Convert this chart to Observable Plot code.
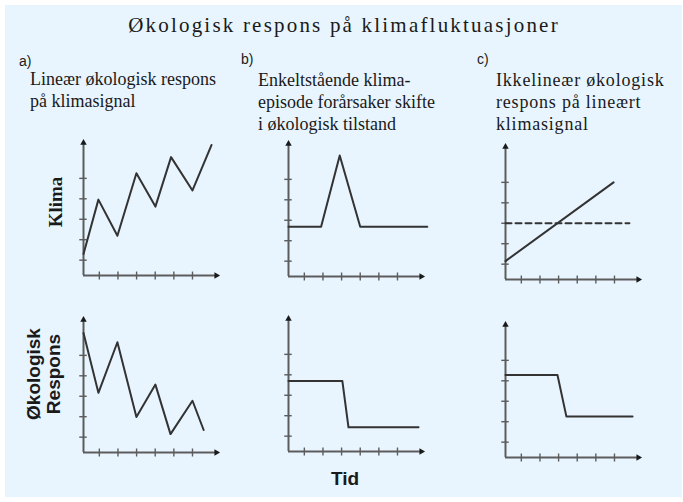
<!DOCTYPE html>
<html><head><meta charset="utf-8">
<script src="https://cdn.jsdelivr.net/npm/d3@7"></script>
<script src="https://cdn.jsdelivr.net/npm/@observablehq/plot@0.6"></script>
<style>
body{margin:0;background:#fff;}
#fig{position:relative;width:683px;height:502px;overflow:hidden;}
#bg{position:absolute;left:5px;top:5px;width:677px;height:492px;background:#e8f5fe;}
.t{position:absolute;white-space:nowrap;color:#1a1a1a;}
.serif{font-family:"Liberation Serif","Tinos","Times New Roman","DejaVu Serif","Noto Serif",serif;}
.sans{font-family:"Liberation Sans",Arial,sans-serif;}
.narrow{font-family:"Liberation Sans Narrow","Liberation Sans",Arial,sans-serif;}
.sub{font-size:18px;line-height:22px;}
.lab{font-size:14px;line-height:14px;}
.p{position:absolute;}
</style></head>
<body>
<div id="fig">
<div id="bg"></div>
<div class="t serif" style="left:2px;width:684px;text-align:center;top:15px;font-size:21px;line-height:21px;letter-spacing:2.2px;">Økologisk respons på klimafluktuasjoner</div>
<div class="t narrow lab" style="left:19px;top:54px;">a)</div>
<div class="t narrow lab" style="left:241px;top:52px;">b)</div>
<div class="t narrow lab" style="left:477px;top:52px;">c)</div>
<div class="t serif sub" style="left:30px;top:68px;">Lineær økologisk respons<br>på klimasignal</div>
<div class="t serif sub" style="left:258px;top:69px;">Enkeltstående klima-<br>episode forårsaker skifte<br>i økologisk tilstand</div>
<div class="t serif sub" style="left:496px;top:69px;letter-spacing:0.8px;">Ikkelineær økologisk<br>respons på lineært<br>klimasignal</div>
<div class="t serif" style="left:55px;top:202px;transform:translate(-50%,-50%) rotate(-90deg);font-size:19px;line-height:19px;font-weight:bold;">Klima</div>
<div class="t sans" style="left:43.5px;top:374px;transform:translate(-50%,-50%) rotate(-90deg);font-size:19px;line-height:20px;font-weight:bold;text-align:center;">Økologisk<br>Respons</div>
<div class="t sans" style="left:345px;top:469px;transform:translateX(-50%);font-size:19px;line-height:19px;font-weight:bold;">Tid</div>
</div>
<script>
// axis tick positions (time units / value units)
const xTicks = [1, 2, 3, 4, 5, 6];
const yTicks = [1, 2, 3, 4, 5];
const xDomain = [0.15, 7.45];
const yDomain = [0.25, 6.9];

// a) linear response
const aClimaTime = [0.15, 0.95, 1.97, 2.99, 4.01, 4.85, 6.0, 7.02];
const aClimaValue = [1.3, 3.96, 2.19, 5.25, 3.62, 6.04, 4.41, 6.63];
const aRespTime = [0.15, 0.95, 1.97, 2.99, 4.01, 4.82, 6.0, 6.6];
const aRespValue = [6.09, 3.17, 5.64, 1.99, 3.57, 1.15, 2.78, 1.35];

// b) single climate episode
const bClimaTime = [0.15, 1.9, 2.9, 4.0, 7.6];
const bClimaValue = [2.68, 2.68, 6.17, 2.68, 2.68];
const bRespTime = [0.15, 3.04, 3.37, 7.13];
const bRespValue = [3.7, 3.7, 1.43, 1.43];

// c) nonlinear response to linear signal
const cClimaTime = [0.15, 5.95];
const cClimaValue = [1.15, 5.0];
const cThresholdTime = [0.15, 6.8];
const cThresholdValue = [3, 3];
const cRespTime = [0.15, 2.94, 3.42, 6.97];
const cRespValue = [4.28, 4.28, 2.25, 2.25];

const table = (t, v) => t.map((x, i) => ({x, y: v[i]}));

const M = 12, FW = 136, FH = 136;
const axisColor = "#5c5c5c";
const lineColor = "#333333";

function panel(ox, oy, series) {
  const marks = [
    Plot.ruleY([yDomain[0]], {x1: xDomain[0], x2: xDomain[1] - 0.15, stroke: axisColor, strokeWidth: 2}),
    Plot.ruleX([xDomain[0]], {y1: yDomain[0], y2: yDomain[1] - 0.15, stroke: axisColor, strokeWidth: 2}),
    Plot.ruleX(xTicks, {x: d => d, y1: yDomain[0] - 0.22, y2: yDomain[0] + 0.17, stroke: axisColor, strokeWidth: 1.4}),
    Plot.ruleY(yTicks, {y: d => d, x1: xDomain[0] - 0.2, x2: xDomain[0] + 0.2, stroke: axisColor, strokeWidth: 1.4}),
    Plot.dot([[xDomain[1] - 0.17, yDomain[0]]], {x: d => d[0], y: d => d[1], symbol: "triangle", rotate: 90, r: 2.4, fill: "#1a1a1a", stroke: "none"}),
    Plot.dot([[xDomain[0], yDomain[1] - 0.16]], {x: d => d[0], y: d => d[1], symbol: "triangle", rotate: 0, r: 2.4, fill: "#1a1a1a", stroke: "none"})
  ];
  for (const s of series) {
    marks.push(Plot.line(table(s.t, s.v), {x: "x", y: "y", stroke: lineColor, strokeWidth: 2, strokeDasharray: s.dash || null}));
  }
  const p = Plot.plot({
    width: FW + 2 * M, height: FH + 2 * M,
    marginLeft: M, marginRight: M, marginTop: M, marginBottom: M,
    x: {domain: xDomain, axis: null},
    y: {domain: yDomain, axis: null},
    style: {background: "transparent", overflow: "visible"},
    marks
  });
  p.classList.add("p");
  p.style.left = (ox - M) + "px";
  p.style.top = (oy - FH - M) + "px";
  document.getElementById("fig").appendChild(p);
}

panel(83, 275, [{t: aClimaTime, v: aClimaValue}]);
panel(288, 276, [{t: bClimaTime, v: bClimaValue}]);
panel(505, 279, [{t: cThresholdTime, v: cThresholdValue, dash: "6,4"}, {t: cClimaTime, v: cClimaValue}]);
panel(83, 452, [{t: aRespTime, v: aRespValue}]);
panel(288, 451, [{t: bRespTime, v: bRespValue}]);
panel(505, 457, [{t: cRespTime, v: cRespValue}]);
</script>
</body></html>
